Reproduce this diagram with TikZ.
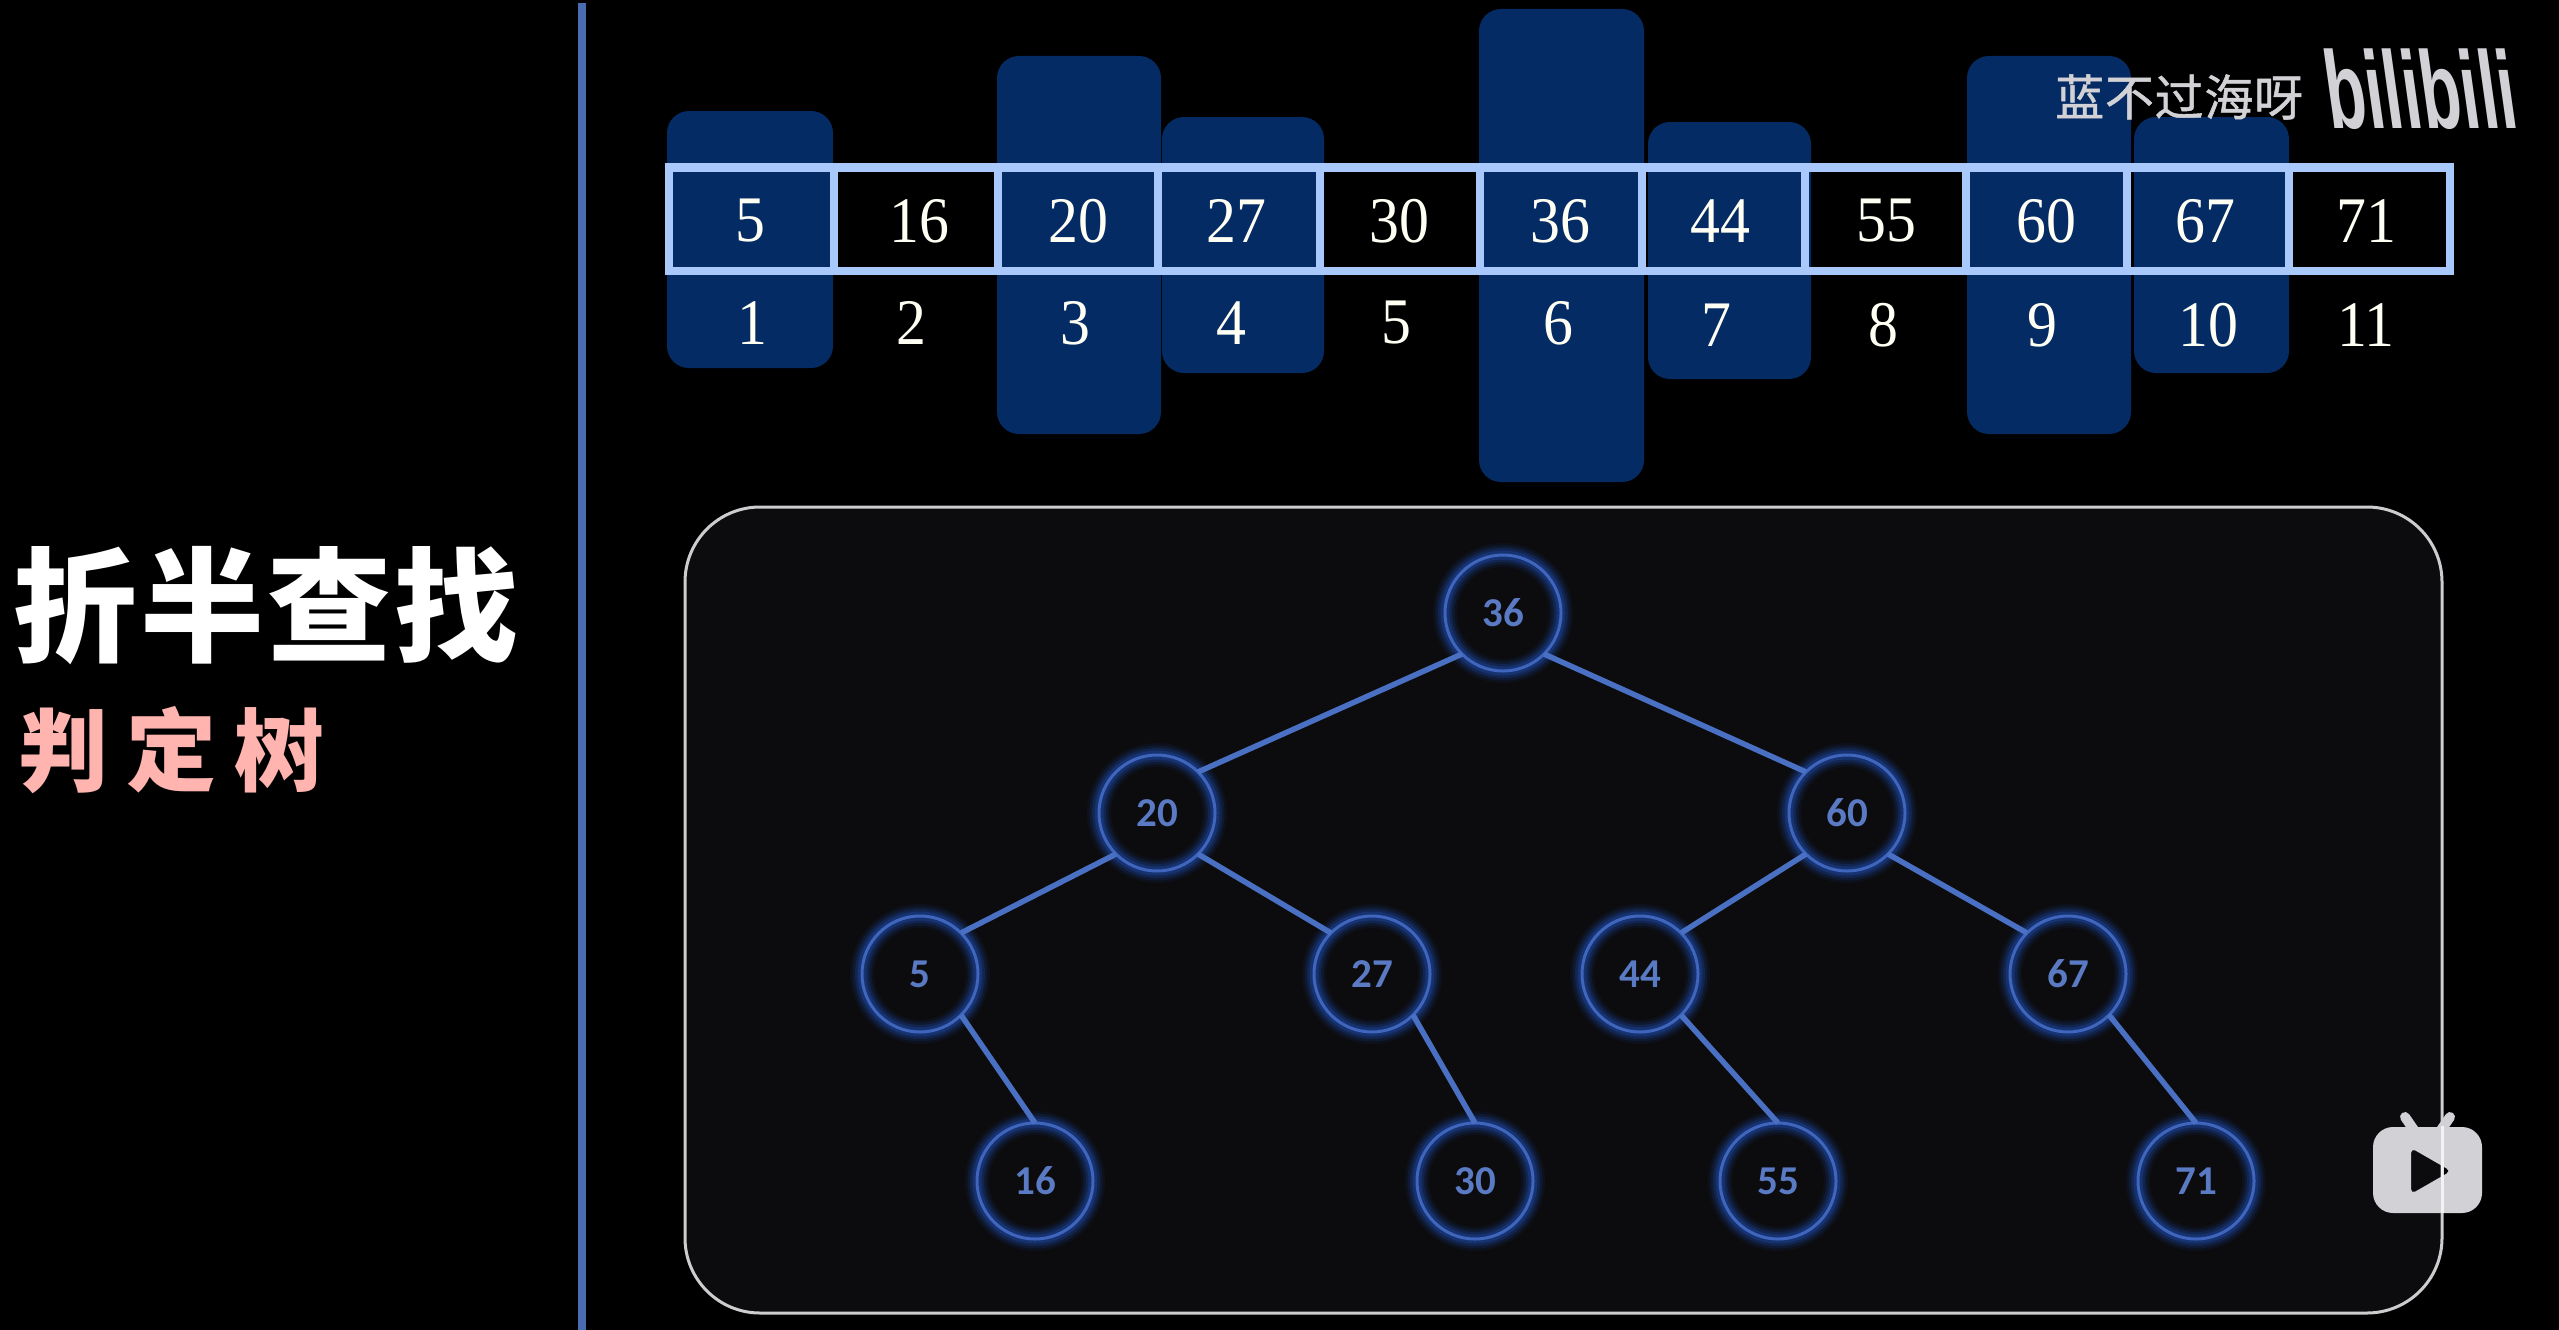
\documentclass[tikz,border=0pt]{standalone}
\usepackage{fontspec}
\setmainfont{Liberation Serif}
\newfontfamily\cjk{Noto Sans CJK SC}
\newfontfamily\nodefont{Carlito}
\newfontfamily\logofont{Liberation Sans}
\definecolor{bgblack}{HTML}{000000}
\definecolor{panel}{HTML}{0C0C0E}
\definecolor{panelline}{HTML}{CDCDD0}
\definecolor{divider}{HTML}{4A6CB0}
\definecolor{column}{HTML}{052B65}
\definecolor{celline}{HTML}{A9C8FB}
\definecolor{ring}{HTML}{3F66BC}
\definecolor{glowblue}{HTML}{1F50B8}
\definecolor{edgeblue}{HTML}{4A70C4}
\definecolor{nodetext}{HTML}{5A7AC4}
\definecolor{numtext}{HTML}{FFFFF4}
\definecolor{titlepink}{HTML}{FFB4AF}
\definecolor{mark}{HTML}{D2D2D6}
\tikzset{
  x=1pt,y=-1pt,
  colbox/.style={fill=column,draw=none,rounded corners=22pt},
  valtext/.style={text=numtext,font=\fontsize{65}{65}\selectfont,inner sep=0pt},
  treenode/.style={circle,minimum size=116pt,inner sep=0pt,outer sep=0pt,
    text=nodetext,font=\nodefont\bfseries\fontsize{41}{41}\selectfont,
    preaction={draw=glowblue,line width=24pt,opacity=.08},
    preaction={draw=glowblue,line width=19pt,opacity=.14},
    preaction={draw=glowblue,line width=14pt,opacity=.22},
    preaction={draw=glowblue,line width=9pt,opacity=.32},
    draw=ring,line width=3pt},
  treeedge/.style={draw=edgeblue,line width=5.5pt},
  markfill/.style={fill=mark,draw=none}
}
\begin{document}
\begin{tikzpicture}
\useasboundingbox (0,0) rectangle (2559,1330);
\fill[bgblack] (0,0) rectangle (2559,1330);
% divider
\fill[divider] (578,3) rectangle (586,1330);
% title
\node[anchor=west,inner sep=0pt,text=white] (title) at (13,606) {\cjk\bfseries\fontsize{124}{124}\selectfont\addfontfeature{LetterSpace=2.5}折半查找};
\node[anchor=west,inner sep=0pt,text=titlepink] (subtitle) at (18,750) {\cjk\bfseries\fontsize{90}{90}\selectfont\addfontfeature{LetterSpace=20}判定树};
% highlight columns
\fill[colbox] (667,111) rectangle (833,368);
\fill[colbox] (997,56) rectangle (1161,434);
\fill[colbox] (1162,117) rectangle (1324,373);
\fill[colbox] (1479,9) rectangle (1644,482);
\fill[colbox] (1648,122) rectangle (1811,379);
\fill[colbox] (1967,56) rectangle (2131,434);
\fill[colbox] (2134,117) rectangle (2289,373);
% array cells
\draw[draw=celline,line width=8.5pt] (669,167.5) rectangle (2450,271);
\foreach \cx in {833.5,997.5,1157.5,1319.5,1479.5,1641.5,1804.5,1966,2127,2288.5}
  \draw[draw=celline,line width=8pt] (\cx,167.5) -- (\cx,271);
% values
\foreach \nm/\cx/\tx in {a/750/5,b/919/16,c/1078/20,d/1236/27,e/1399/30,f/1560/36,g/1720/44,h/1886/55,i/2046/60,j/2205/67,k/2366/71}
  \node[valtext] (val\nm) at (\cx,221) {\scalebox{.92}[1]{\tx}};
\foreach \nm/\cx/\cy/\tx in {a/752/323/1,b/911/323/2,c/1075/323/3,d/1231/323/4,e/1396/323/5,f/1558/323/6,g/1716/325/7,h/1883/325/8,i/2042/325/9,j/2208/325/10,k/2366/325/11}
  \node[valtext] (idx\nm) at (\cx,\cy) {\scalebox{.92}[1]{\tx}};
% tree panel
\draw[fill=panel,draw=panelline,line width=3pt,rounded corners=75pt] (685,507) rectangle (2442,1313);
% tree nodes
\node[treenode] (t36) at (1503,613) {36};
\node[treenode] (t20) at (1157,813) {20};
\node[treenode] (t60) at (1847,813) {60};
\node[treenode] (t5) at (920,974) {5};
\node[treenode] (t27) at (1372,974) {27};
\node[treenode] (t44) at (1640,974) {44};
\node[treenode] (t67) at (2068,974) {67};
\node[treenode] (t16) at (1035,1181) {16};
\node[treenode] (t30) at (1475,1181) {30};
\node[treenode] (t55) at (1778,1181) {55};
\node[treenode] (t71) at (2196,1181) {71};
% edges
\draw[treeedge] (t36.225) -- (t20.45);
\draw[treeedge] (t36.-45) -- (t60.135);
\draw[treeedge] (t20.225) -- (t5.45);
\draw[treeedge] (t20.-45) -- (t27.135);
\draw[treeedge] (t60.225) -- (t44.45);
\draw[treeedge] (t60.-45) -- (t67.135);
\draw[treeedge] (t5.-45) -- (t16.90);
\draw[treeedge] (t27.-45) -- (t30.90);
\draw[treeedge] (t44.-45) -- (t55.90);
\draw[treeedge] (t67.-45) -- (t71.90);
% watermark
\node[anchor=west,inner sep=0pt,text=mark] (wm) at (2055,97) {\cjk\fontsize{49}{49}\selectfont\addfontfeature{LetterSpace=1.5,FakeBold=1}蓝不过海呀};
\begin{scope}[shift={(2420,89)},xslant=-.14,transform shape]
\node[inner sep=0pt,text=mark,font=\logofont\bfseries\fontsize{110}{110}\selectfont] (logo) at (0,0) {\scalebox{.6}[1]{bilibili}};
\end{scope}
% tv icon
\fill[markfill,even odd rule] [rounded corners=20pt] (2373,1127) rectangle (2482,1213)
   [rounded corners=5pt] (2411,1148) -- (2451,1171) -- (2411,1194) -- cycle;
\draw[draw=mark,line width=10pt,line cap=round] (2405,1117) -- (2416,1133);
\draw[draw=mark,line width=10pt,line cap=round] (2450,1117) -- (2439,1133);
\draw[draw=white,opacity=.75,line width=3pt] (2442,1126) -- (2442,1213);
\end{tikzpicture}
\end{document}
